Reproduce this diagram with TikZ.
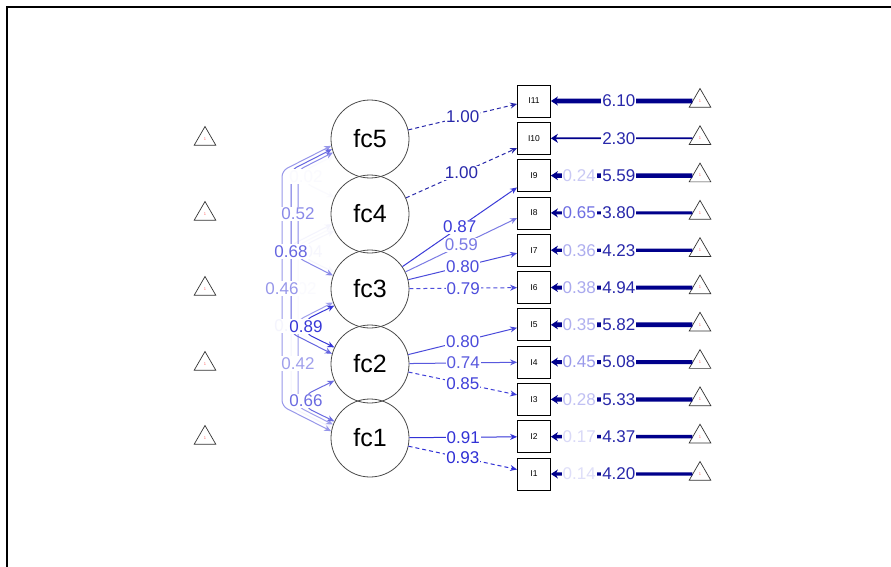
\documentclass[tikz,border=0pt]{standalone}
\usepackage{fontspec}
\setmainfont{Liberation Sans}
\usetikzlibrary{arrows.meta,shapes.geometric}
\definecolor{sb}{RGB}{30,30,210}
\definecolor{navyr}{RGB}{0,0,139}
\definecolor{ic}{RGB}{40,40,170}
\begin{document}
\begin{tikzpicture}[x=1pt,y=-1pt,
 lat/.style={circle,draw=black!70,line width=0.8pt,minimum size=78pt,inner sep=0pt,font=\fontsize{25}{25}\selectfont},
 man/.style={rectangle,draw=black,fill=white,line width=0.8pt,minimum width=33pt,minimum height=32pt,inner sep=0pt,font=\fontsize{8.5}{8.5}\selectfont},
 tri/.style={regular polygon,regular polygon sides=3,draw=black!80,line width=0.7pt,minimum size=25pt,inner sep=0pt,font=\fontsize{4}{4}\selectfont,text=red!60},
 lab/.style={fill=white,inner sep=1pt,font=\fontsize{17}{17}\selectfont},
 load/.style={line width=1pt,-{Stealth[length=7pt,width=6pt]}},
 cov/.style={line width=1pt,{Stealth[length=7pt,width=6pt]}-{Stealth[length=7pt,width=6pt]},rounded corners=6pt},
 dsh/.style={dash pattern=on 4pt off 3pt},
 res/.style={draw=navyr,-{Stealth[length=7pt,width=9pt]}},
]
\useasboundingbox (0,0) rectangle (891,567);
\fill[white] (0,0) rectangle (891,567);
\draw[line width=1.6pt] (7,567) -- (7,7) -- (891,7);

% latent variables
\node[lat] (fc5) at (370,139) {fc5};
\node[lat] (fc4) at (370,214) {fc4};
\node[lat] (fc3) at (370,289) {fc3};
\node[lat] (fc2) at (370,364) {fc2};
\node[lat] (fc1) at (370,438) {fc1};

% left triangles
\node[tri] (L5) at (205,139) {1};
\node[tri] (L4) at (205,214) {1};
\node[tri] (L3) at (205,289) {1};
\node[tri] (L2) at (205,364) {1};
\node[tri] (L1) at (205,438) {1};

% manifest variables
\node[man] (I11) at (534,101) {I11};
\node[man] (I10) at (534,138.3) {I10};
\node[man] (I9) at (534,175.6) {I9};
\node[man] (I8) at (534,212.9) {I8};
\node[man] (I7) at (534,250.2) {I7};
\node[man] (I6) at (534,287.5) {I6};
\node[man] (I5) at (534,324.8) {I5};
\node[man] (I4) at (534,362.1) {I4};
\node[man] (I3) at (534,399.4) {I3};
\node[man] (I2) at (534,436.7) {I2};
\node[man] (I1) at (534,474) {I1};

% right triangles
\node[tri] (T11) at (700,101) {1};
\node[tri] (T10) at (700,138.3) {1};
\node[tri] (T9) at (700,175.6) {1};
\node[tri] (T8) at (700,212.9) {1};
\node[tri] (T7) at (700,250.2) {1};
\node[tri] (T6) at (700,287.5) {1};
\node[tri] (T5) at (700,324.8) {1};
\node[tri] (T4) at (700,362.1) {1};
\node[tri] (T3) at (700,399.4) {1};
\node[tri] (T2) at (700,436.7) {1};
\node[tri] (T1) at (700,474) {1};

% intercept / residual arrows
\draw[res,line width=4.9pt] (T11) -- (I11) node[lab,text=ic,pos=0.52]{6.10};
\draw[res,line width=1.8pt] (T10) -- (I10) node[lab,text=ic,pos=0.52]{2.30};
\draw[res,line width=4.5pt] (T9) -- (I9) node[lab,text=ic,pos=0.52]{5.59} node[lab,text=sb!24!white,pos=0.8]{0.24};
\draw[res,line width=3.0pt] (T8) -- (I8) node[lab,text=ic,pos=0.52]{3.80} node[lab,text=sb!65!white,pos=0.8]{0.65};
\draw[res,line width=3.4pt] (T7) -- (I7) node[lab,text=ic,pos=0.52]{4.23} node[lab,text=sb!36!white,pos=0.8]{0.36};
\draw[res,line width=4.0pt] (T6) -- (I6) node[lab,text=ic,pos=0.52]{4.94} node[lab,text=sb!38!white,pos=0.8]{0.38};
\draw[res,line width=4.7pt] (T5) -- (I5) node[lab,text=ic,pos=0.52]{5.82} node[lab,text=sb!35!white,pos=0.8]{0.35};
\draw[res,line width=4.1pt] (T4) -- (I4) node[lab,text=ic,pos=0.52]{5.08} node[lab,text=sb!45!white,pos=0.8]{0.45};
\draw[res,line width=4.3pt] (T3) -- (I3) node[lab,text=ic,pos=0.52]{5.33} node[lab,text=sb!28!white,pos=0.8]{0.28};
\draw[res,line width=3.5pt] (T2) -- (I2) node[lab,text=ic,pos=0.52]{4.37} node[lab,text=sb!17!white,pos=0.8]{0.17};
\draw[res,line width=3.4pt] (T1) -- (I1) node[lab,text=ic,pos=0.52]{4.20} node[lab,text=sb!14!white,pos=0.8]{0.14};

% loadings
\draw[load,dsh,color=ic] (fc5) -- (I11.190) node[lab,text=ic,pos=0.5]{1.00};
\draw[load,dsh,color=ic] (fc4) -- (I10.210) node[lab,text=ic,pos=0.5]{1.00};
\draw[load,color=sb!87!white] (fc3) -- (I9.215) node[lab,pos=0.5]{0.87};
\draw[load,color=sb!59!white] (fc3) -- (I8.197) node[lab,pos=0.5]{0.59};
\draw[load,color=sb!80!white] (fc3) -- (I7.190) node[lab,pos=0.5]{0.80};
\draw[load,dsh,color=sb!79!white] (fc3) -- (I6) node[lab,pos=0.5]{0.79};
\draw[load,color=sb!80!white] (fc2) -- (I5.190) node[lab,pos=0.5]{0.80};
\draw[load,color=sb!74!white] (fc2) -- (I4) node[lab,pos=0.5]{0.74};
\draw[load,dsh,color=sb!85!white] (fc2) -- (I3.165) node[lab,pos=0.5]{0.85};
\draw[load,color=sb!91!white] (fc1) -- (I2) node[lab,pos=0.5]{0.91};
\draw[load,dsh,color=sb!93!white] (fc1) -- (I1.165) node[lab,pos=0.5]{0.93};

% covariances
\draw[cov,color=sb!2!white] (fc5.205) -- (306,169.5) -- (306,183.5) -- (fc4.155);
\draw[cov,color=sb!4!white] (fc4.205) -- (306,244.5) -- (306,258.5) -- (fc3.155);
\draw[cov,color=sb!2!white] (fc4.200) -- (298,245.3) -- (298,332.7) -- (fc2.160);
\draw[cov,color=sb!5!white] (fc4.195) -- (291,245.1) -- (291,406.9) -- (fc1.165);
\draw[cov,color=sb!42!white] (fc3.200) -- (298,320.3) -- (298,406.7) -- (fc1.160);
\draw[cov,color=sb!46!white] (fc5.190) -- (282,170.8) -- (282,406.2) -- (fc1.170);
\draw[cov,color=sb!52!white] (fc5.200) -- (298,170.3) -- (298,257.7) -- (fc3.160);
\draw[cov,color=sb!66!white] (fc2.205) -- (306,394.5) -- (306,407.5) -- (fc1.155);
\draw[cov,color=sb!68!white] (fc5.195) -- (291,170.1) -- (291,332.9) -- (fc2.165);
\draw[cov,color=sb!89!white] (fc3.205) -- (306,319.5) -- (306,333.5) -- (fc2.155);

% covariance labels
\node[lab,text=sb!2!white] (c54) at (306,176.5) {0.02};
\node[lab,text=sb!4!white] (c43) at (306,251.5) {0.04};
\node[lab,text=sb!2!white] (c42) at (300,289) {0.02};
\node[lab,text=sb!5!white] (c41) at (291,326) {0.05};
\node[lab,text=sb!42!white] (c31) at (298,363.5) {0.42};
\node[lab,text=sb!46!white] (c51) at (282,288.5) {0.46};
\node[lab,text=sb!52!white] (c53) at (298,214) {0.52};
\node[lab,text=sb!66!white] (c21) at (306,401) {0.66};
\node[lab,text=sb!68!white] (c52) at (291,251.5) {0.68};
\node[lab,text=sb!89!white] (c32) at (306,326.5) {0.89};
\end{tikzpicture}
\end{document}
